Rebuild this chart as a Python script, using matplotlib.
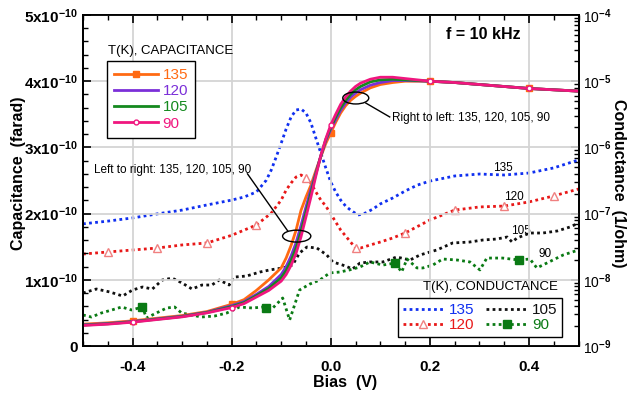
import numpy as np
import matplotlib
matplotlib.use("Agg")
import matplotlib.pyplot as plt
from matplotlib.patches import Ellipse
from matplotlib.ticker import FixedLocator, FuncFormatter, LogLocator, NullFormatter, MultipleLocator
from matplotlib.lines import Line2D

plt.rcParams['font.family'] = ['Liberation Sans', 'DejaVu Sans']
plt.rcParams['axes.unicode_minus'] = False
plt.rcParams['mathtext.fontset'] = 'custom'
plt.rcParams['mathtext.rm'] = 'Liberation Sans:bold'
plt.rcParams['mathtext.bf'] = 'Liberation Sans:bold'
plt.rcParams['mathtext.default'] = 'bf'

# ---------------- data ----------------
temps = ["135", "120", "105", "90"]

# Capacitance (units of 1e-10 F)
bias_c = [-0.5, -0.45, -0.4, -0.35, -0.3, -0.25, -0.2, -0.175, -0.15, -0.125, -0.1, -0.09, -0.08,
          -0.07, -0.06, -0.05, -0.04, -0.03, -0.02, -0.01, 0.0, 0.01, 0.02, 0.03, 0.04, 0.05, 0.06,
          0.08, 0.1, 0.125, 0.15, 0.2, 0.25, 0.3, 0.35, 0.4, 0.45, 0.5]
cap_135 = [0.33, 0.35, 0.38, 0.42, 0.46, 0.52, 0.63, 0.70, 0.84, 1.00, 1.18, 1.33, 1.52, 1.75, 2.05,
           2.25, 2.43, 2.65, 2.86, 3.06, 3.22, 3.38, 3.52, 3.63, 3.71, 3.77, 3.82, 3.90, 3.95, 3.98,
           4.00, 4.00, 3.98, 3.95, 3.92, 3.89, 3.87, 3.85]
cap_120 = [0.32, 0.34, 0.37, 0.41, 0.45, 0.51, 0.61, 0.67, 0.78, 0.90, 1.08, 1.20, 1.36, 1.56, 1.82,
           2.10, 2.37, 2.62, 2.87, 3.10, 3.27, 3.42, 3.56, 3.67, 3.76, 3.82, 3.87, 3.94, 3.98, 4.01,
           4.01, 4.00, 3.98, 3.95, 3.92, 3.89, 3.87, 3.85]
cap_105 = [0.315, 0.335, 0.365, 0.405, 0.445, 0.505, 0.595, 0.655, 0.76, 0.87, 1.03, 1.14, 1.29, 1.48,
           1.73, 2.02, 2.31, 2.60, 2.87, 3.12, 3.30, 3.46, 3.60, 3.71, 3.80, 3.87, 3.92, 3.99, 4.02,
           4.03, 4.02, 4.00, 3.98, 3.95, 3.92, 3.89, 3.87, 3.85]
cap_90 = [0.31, 0.33, 0.36, 0.40, 0.44, 0.50, 0.58, 0.64, 0.74, 0.84, 0.98, 1.08, 1.22, 1.40, 1.65,
          1.95, 2.25, 2.57, 2.88, 3.13, 3.34, 3.50, 3.65, 3.76, 3.85, 3.92, 3.97, 4.03, 4.06, 4.06,
          4.04, 4.00, 3.98, 3.95, 3.92, 3.89, 3.87, 3.85]
cap_marker_bias = [-0.4, -0.2, 0.0, 0.2, 0.4]

# Conductance (1/ohm)
bias_g135 = [-0.5, -0.45, -0.4, -0.35, -0.3, -0.25, -0.2, -0.175, -0.15, -0.13, -0.12, -0.11, -0.1,
             -0.09, -0.08, -0.07, -0.06, -0.05, -0.04, -0.03, -0.02, -0.01, 0.0, 0.01, 0.02, 0.03,
             0.04, 0.055, 0.07, 0.085, 0.1, 0.125, 0.15, 0.175, 0.2, 0.25, 0.3, 0.35, 0.4, 0.45, 0.5]
g_135 = [7.0e-8, 7.7e-8, 8.6e-8, 9.9e-8, 1.13e-7, 1.35e-7, 1.6e-7, 1.78e-7, 2.12e-7, 3.2e-7, 4.57e-7,
         7.2e-7, 1.16e-6, 1.9e-6, 2.88e-6, 3.67e-6, 3.8e-6, 3.31e-6, 2.34e-6, 1.38e-6, 8.2e-7, 4.9e-7,
         3.0e-7, 2.12e-7, 1.6e-7, 1.3e-7, 1.13e-7, 9.5e-8, 1.02e-7, 1.17e-7, 1.4e-7, 1.72e-7, 2.19e-7,
         2.7e-7, 3.1e-7, 3.7e-7, 3.96e-7, 3.83e-7, 4.1e-7, 4.9e-7, 6.46e-7]

bias_g120 = [-0.5, -0.45, -0.4, -0.35, -0.3, -0.25, -0.2, -0.15, -0.12, -0.1, -0.09, -0.08, -0.07,
             -0.06, -0.05, -0.04, -0.03, -0.02, -0.01, 0.0, 0.01, 0.02, 0.03, 0.04, 0.05, 0.06, 0.08,
             0.1, 0.125, 0.15, 0.2, 0.25, 0.3, 0.35, 0.4, 0.45, 0.5]
g_120 = [2.45e-8, 2.63e-8, 2.82e-8, 3.02e-8, 3.36e-8, 3.6e-8, 4.7e-8, 6.73e-8, 1.02e-7, 1.6e-7,
         2.27e-7, 2.9e-7, 3.57e-7, 3.83e-7, 3.45e-7, 2.9e-7, 2.12e-7, 1.6e-7, 1.3e-7, 9.9e-8, 7.47e-8,
         5.65e-8, 4.59e-8, 3.72e-8, 3.02e-8, 3.02e-8, 3.36e-8, 3.72e-8, 4.28e-8, 5.09e-8, 8.0e-8,
         1.13e-7, 1.26e-7, 1.3e-7, 1.5e-7, 1.85e-7, 2.35e-7]
g120_marker_bias = [-0.45, -0.35, -0.25, -0.15, -0.05, 0.05, 0.15, 0.25, 0.35, 0.45]

bias_g105 = [-0.5, -0.473, -0.446, -0.42, -0.4, -0.38, -0.36, -0.34, -0.32, -0.3, -0.28, -0.26, -0.24,
             -0.225, -0.205, -0.195, -0.17, -0.143, -0.123, -0.097, -0.077, -0.063, -0.048, -0.028,
             -0.008, 0.004, 0.024, 0.044, 0.059, 0.079, 0.105, 0.133, 0.16, 0.18, 0.214, 0.246, 0.28,
             0.307, 0.335, 0.356, 0.366, 0.376, 0.402, 0.428, 0.457, 0.483, 0.5]
g_105 = [6.32e-9, 7.26e-9, 6.55e-9, 5.69e-9, 7.01e-9, 7.78e-9, 7.26e-9, 9.93e-9, 1.06e-8, 8.95e-9,
         7.26e-9, 8.34e-9, 8.34e-9, 9.93e-9, 8.34e-9, 1.10e-8, 1.14e-8, 1.31e-8, 1.41e-8, 1.51e-8,
         1.67e-8, 2.54e-8, 3.13e-8, 3.02e-8, 2.37e-8, 1.86e-8, 1.67e-8, 1.46e-8, 1.79e-8, 1.86e-8,
         1.86e-8, 2.21e-8, 1.99e-8, 2.37e-8, 2.82e-8, 3.60e-8, 3.72e-8, 3.99e-8, 4.13e-8, 4.43e-8,
         3.72e-8, 4.28e-8, 5.09e-8, 5.09e-8, 5.46e-8, 6.28e-8, 7.21e-8]

bias_g90 = [-0.5, -0.483, -0.463, -0.442, -0.422, -0.402, -0.38, -0.372, -0.352, -0.331, -0.315, -0.301,
            -0.281, -0.261, -0.234, -0.21, -0.184, -0.158, -0.137, -0.13, -0.117, -0.097, -0.083,
            -0.063, -0.042, -0.022, -0.002, 0.018, 0.038, 0.059, 0.079, 0.105, 0.13, 0.143, 0.154,
            0.174, 0.186, 0.206, 0.226, 0.255, 0.281, 0.301, 0.315, 0.347, 0.38, 0.402, 0.416, 0.436,
            0.469, 0.5]
g_90 = [2.94e-9, 2.74e-9, 3.15e-9, 3.5e-9, 3.88e-9, 3.5e-9, 3.88e-9, 2.65e-9, 3.15e-9, 3.75e-9,
        3.88e-9, 3.15e-9, 2.94e-9, 2.74e-9, 2.84e-9, 3.15e-9, 3.88e-9, 3.75e-9, 3.88e-9, 3.75e-9,
        3.75e-9, 5.31e-9, 2.47e-9, 7.01e-9, 8.64e-9, 9.93e-9, 1.27e-8, 1.31e-8, 1.41e-8, 1.56e-8,
        1.86e-8, 1.67e-8, 1.79e-8, 1.31e-8, 2.06e-8, 1.51e-8, 1.51e-8, 1.67e-8, 2.06e-8, 1.99e-8,
        1.86e-8, 1.41e-8, 2.13e-8, 2.13e-8, 1.99e-8, 2.06e-8, 1.51e-8, 1.79e-8, 2.37e-8, 2.82e-8]
g90_marker_bias = [-0.38, -0.13, 0.13, 0.38]

x_ticks = [-0.4, -0.2, 0.0, 0.2, 0.4]
cap_ticks = [0, 1e-10, 2e-10, 3e-10, 4e-10, 5e-10]
cap_tick_labels = ["0", "1x10$^{-10}$", "2x10$^{-10}$", "3x10$^{-10}$", "4x10$^{-10}$", "5x10$^{-10}$"]
g_ticks = [1e-9, 1e-8, 1e-7, 1e-6, 1e-5, 1e-4]
g_tick_labels = ["10$^{-9}$", "10$^{-8}$", "10$^{-7}$", "10$^{-6}$", "10$^{-5}$", "10$^{-4}$"]

# ---------------- style ----------------
c_orange = '#FF6A13'
c_purple = '#7B2FD8'
c_green = '#14891E'
c_pink = '#F0167F'
c_blue = '#1030F0'
c_red = '#E81818'
c_black = '#101010'
c_dgreen = '#0A7A14'
DOT = (0, (1, 1.2))


def idx(bias, marks):
    return [int(np.argmin(np.abs(np.array(bias) - m))) for m in marks]


fig = plt.figure(figsize=(6.29, 3.97), dpi=100)
ax = fig.add_axes([83 / 629, 51 / 397, 495.5 / 629, 331 / 397])
ax2 = ax.twinx()
ax.set_zorder(ax2.get_zorder() + 1)
ax.patch.set_visible(False)

# conductance (right, log)
ax2.set_yscale('log')
ax2.plot(bias_g135, g_135, color=c_blue, lw=2.0, ls=DOT)
ax2.plot(bias_g120, g_120, color=c_red, lw=2.0, ls=DOT, marker='^', ms=6,
         mfc='white', mec='#F08080', mew=1.0, markevery=idx(bias_g120, g120_marker_bias))
ax2.plot(bias_g105, g_105, color=c_black, lw=2.0, ls=DOT)
ax2.plot(bias_g90, g_90, color=c_dgreen, lw=2.0, ls=DOT, marker='s', ms=6,
         mfc=c_dgreen, mec=c_dgreen, markevery=idx(bias_g90, g90_marker_bias))
ax2.set_ylim(1e-9, 1e-4)

# capacitance (left)
bc = np.array(bias_c)
mk = idx(bias_c, cap_marker_bias)
ax.plot(bc, np.array(cap_135) * 1e-10, color=c_orange, lw=2.0, marker='s', ms=5, markevery=mk)
ax.plot(bc, np.array(cap_120) * 1e-10, color=c_purple, lw=2.0)
ax.plot(bc, np.array(cap_105) * 1e-10, color=c_green, lw=2.0)
ax.plot(bc, np.array(cap_90) * 1e-10, color=c_pink, lw=2.0, marker='o', ms=3.5, mfc='white',
        mec=c_pink, mew=1.0, markevery=mk)

ax.set_xlim(-0.5, 0.5)
ax.set_ylim(0, 5e-10)

# grid
ax.grid(True, which='major', color='#d4d4d4', lw=1.3)
ax.set_axisbelow(True)

# ticks
ax.xaxis.set_major_locator(FixedLocator(x_ticks))
ax.xaxis.set_minor_locator(MultipleLocator(0.05))
ax.xaxis.set_major_formatter(FuncFormatter(lambda v, p: "%.1f" % v))
ax.yaxis.set_major_locator(FixedLocator(cap_ticks))
ax.yaxis.set_minor_locator(MultipleLocator(0.2e-10))
ax.set_yticklabels(cap_tick_labels)
ax.tick_params(axis='both', which='both', direction='in', top=True)
ax.tick_params(axis='both', which='major', length=6, width=1.2, labelsize=11)
ax.tick_params(axis='both', which='minor', length=3.5, width=1.0)
ax.tick_params(axis='x', pad=10)
for lab in ax.get_xticklabels() + ax.get_yticklabels():
    lab.set_fontweight('bold')

ax2.yaxis.set_major_locator(FixedLocator(g_ticks))
ax2.set_yticklabels(g_tick_labels)
ax2.yaxis.set_minor_locator(LogLocator(base=10, subs=np.arange(2, 10)))
ax2.yaxis.set_minor_formatter(NullFormatter())
ax2.tick_params(axis='y', which='both', direction='in')
ax2.tick_params(axis='y', which='major', length=6, width=1.2, labelsize=10, pad=3.5)
ax2.tick_params(axis='y', which='minor', length=3.5, width=1.0)

for a in (ax, ax2):
    for s in a.spines.values():
        s.set_linewidth(1.3)

ax.set_xlabel("Bias  (V)", fontsize=11.5, fontweight='bold')
ax.xaxis.set_label_coords(0.529, -0.088)
ax.set_ylabel("Capacitance  (farad)", fontsize=11.5, fontweight='bold')
ax.yaxis.set_label_coords(-0.115, 0.521)
ax2.set_ylabel("Conductance  (1/ohm)", fontsize=11.5, fontweight='bold', rotation=270)
ax2.yaxis.set_label_coords(1.095, 0.492)

# annotations
ax.text(0.807, 0.94, "f = 10 kHz", transform=ax.transAxes, ha='center', va='center',
        fontsize=11.5, fontweight='bold')
ax.add_patch(Ellipse((0.0505, 3.746e-10), 0.0525, 0.18e-10, fill=False, ec='black', lw=1.0, zorder=5))
ax.plot([0.0707, 0.119], [3.67e-10, 3.46e-10], color='black', lw=1.0, zorder=5)
ax.text(0.123, 3.44e-10, "Right to left: 135, 120, 105, 90", fontsize=8.5, va='center', ha='left')
ax.add_patch(Ellipse((-0.0687, 1.66e-10), 0.057, 0.18e-10, fill=False, ec='black', lw=1.0, zorder=5))
ax.plot([-0.168, -0.087], [2.6e-10, 1.74e-10], color='black', lw=1.0, zorder=5)
ax.text(-0.477, 2.66e-10, "Left to right: 135, 120, 105, 90", fontsize=8.5, va='center', ha='left')

ax2.text(0.347, 4.9e-7, "135", fontsize=8.5, ha='center', va='center')
ax2.text(0.37, 1.78e-7, "120", fontsize=8.5, ha='center', va='center')
ax2.text(0.384, 5.46e-8, "105", fontsize=8.5, ha='center', va='center')
ax2.text(0.432, 2.45e-8, "90", fontsize=8.5, ha='center', va='center')

# legend 1: capacitance
h1 = [Line2D([], [], color=c_orange, lw=2.0, marker='s', ms=5),
      Line2D([], [], color=c_purple, lw=2.0),
      Line2D([], [], color=c_green, lw=2.0),
      Line2D([], [], color=c_pink, lw=2.0, marker='o', ms=3.5, mfc='white', mec=c_pink)]
leg1 = ax.legend(h1, temps, loc='upper left', bbox_to_anchor=(0.048, 0.861), borderaxespad=0,
                 fontsize=11, handlelength=2.9, labelspacing=0.15, handletextpad=0.3,
                 fancybox=False, edgecolor='black', framealpha=1, borderpad=0.45)
leg1.get_frame().set_linewidth(1.0)
for t, c in zip(leg1.get_texts(), [c_orange, c_purple, c_green, c_pink]):
    t.set_color(c)
ax.add_artist(leg1)
ax.text(0.050, 0.891, "T(K), CAPACITANCE", transform=ax.transAxes, fontsize=9.5, ha='left', va='center')

# legend 2: conductance
h2 = [Line2D([], [], color=c_blue, lw=2.0, ls=DOT),
      Line2D([], [], color=c_red, lw=2.0, ls=DOT, marker='^', ms=6, mfc='white', mec='#F08080'),
      Line2D([], [], color=c_black, lw=2.0, ls=DOT),
      Line2D([], [], color=c_dgreen, lw=2.0, ls=DOT, marker='s', ms=6, mfc=c_dgreen)]
leg2 = ax.legend(h2, ["135", "120", "105", "90"], ncol=2, loc='lower right',
                 bbox_to_anchor=(0.967, 0.027), borderaxespad=0, fontsize=11, handlelength=2.7,
                 labelspacing=0.1, handletextpad=0.3, columnspacing=0.8,
                 fancybox=False, edgecolor='black', framealpha=1, borderpad=0.3)
leg2.get_frame().set_linewidth(1.0)
for t, c in zip(leg2.get_texts(), [c_blue, c_red, c_black, c_dgreen]):
    t.set_color(c)
ax.text(0.959, 0.177, "T(K), CONDUCTANCE", transform=ax.transAxes, fontsize=9.5, ha='right', va='center')

fig.savefig("out.png", dpi=100)
